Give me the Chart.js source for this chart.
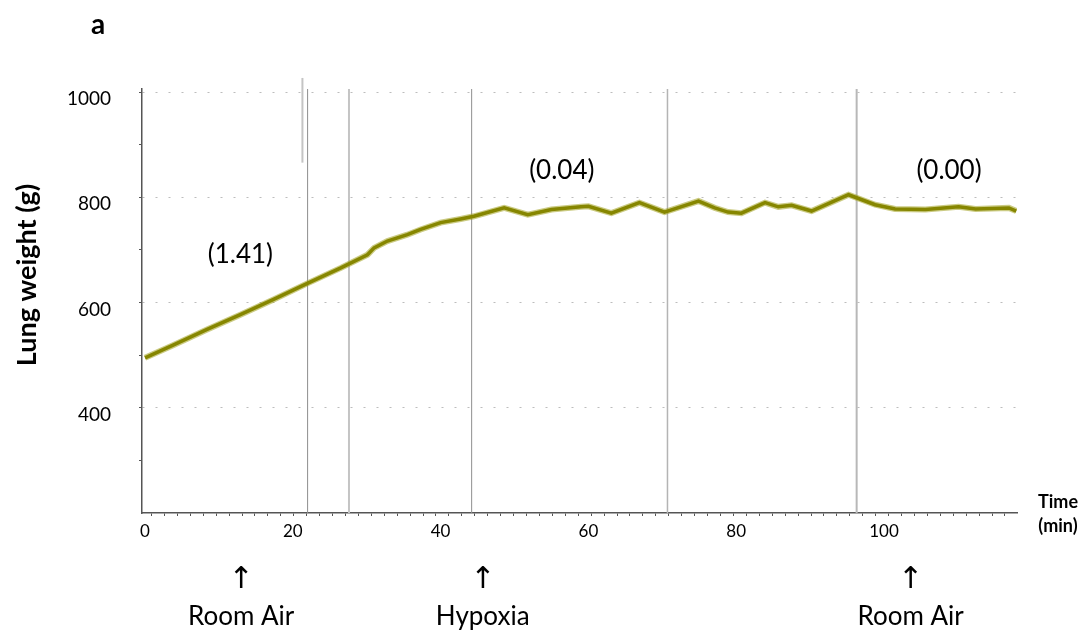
<!DOCTYPE html>
<html>
<head>
<meta charset="utf-8">
<script src="https://cdn.jsdelivr.net/npm/chart.js@4.4.1/dist/chart.umd.min.js"></script>
<style>
  html, body { margin: 0; padding: 0; background: #fff; }
  #wrap { position: relative; width: 1091px; height: 635px; }
</style>
</head>
<body>
<div id="wrap"><canvas id="c" width="1091" height="635"></canvas></div>
<script>
// Recorded lung weight trace (time in minutes, weight in grams)
const timeMin = [0, 3.8, 8.4, 12.9, 17.4, 21.9, 26.5, 30.1, 31.0, 32.8,
  35.5, 37.3, 40.0, 42.7, 44.5, 48.6, 51.8, 55.0, 59.0, 60.0,
  63.1, 66.9, 70.3, 74.9, 77.1, 78.9, 80.7, 83.9, 85.7, 87.5, 90.2,
  95.2, 98.8, 101.5, 105.6, 110.1, 112.4, 116.9, 117.9];
const lungWeight = [495, 519, 549, 577, 606, 636, 666, 691, 704, 717,
  729, 739, 752, 759, 764, 780, 767, 777, 782, 783,
  770, 790, 772, 793, 780, 772, 770, 790, 782, 785, 774,
  805, 786, 778, 777, 782, 778, 780, 774];

// Event markers (minutes)
const markerTimes = [22.0, 27.6, 44.2, 70.7, 96.3];
const flushTime = 21.3;
const flushRange = [866, 1027];

// Slopes of the weight change for each phase
const slopeLabels = ['(1.41)', '(0.04)', '(0.00)'];

// Gas switches
const stimulusLabels = ['Room Air', 'Hypoxia', 'Room Air'];
const stimulusTimes = [13.0, 45.7, 103.6];

// Axis ticks
const xLabelTicks = [0, 20, 40, 60, 80, 100];
const xMinorStep = 1.75;
const yTicks = [200, 300, 400, 500, 600, 700, 800, 900, 1000];
const yLabelTicks = [400, 600, 800, 1000];

const markerStyles = [
  { color: '#8e8e8e', width: 1 },
  { color: '#c4c4c4', width: 2 },
  { color: '#8e8e8e', width: 1 },
  { color: '#b4b4b4', width: 1.5 },
  { color: '#b8b8b8', width: 2 }
];

const traceData = timeMin.map((t, i) => ({ x: t, y: lungWeight[i] }));

const datasets = [{
  // core of the trace
  data: traceData,
  borderColor: '#868600',
  borderWidth: 3.5,
  pointRadius: 0,
  tension: 0
}, {
  // softer halo from the signal jitter
  data: traceData,
  borderColor: 'rgba(160,160,30,0.55)',
  borderWidth: 6,
  pointRadius: 0,
  tension: 0
}];
markerTimes.forEach((t, i) => {
  datasets.push({
    data: [{ x: t, y: 200 }, { x: t, y: 1006 }],
    borderColor: markerStyles[i].color,
    borderWidth: markerStyles[i].width,
    pointRadius: 0
  });
});
datasets.push({
  data: [{ x: flushTime, y: flushRange[0] }, { x: flushTime, y: flushRange[1] }],
  borderColor: '#c4c4c4',
  borderWidth: 2,
  pointRadius: 0,
  clip: false
});

const annotate = {
  id: 'annotate',
  afterDraw(chart) {
    const { ctx, scales: { x, y } } = chart;
    ctx.save();
    ctx.fillStyle = '#000';
    ctx.textAlign = 'center';

    ctx.textBaseline = 'middle';
    ctx.font = 'bold 28px Lato';
    ctx.fillText('a', 98, 25);

    ctx.save();
    ctx.translate(27, 275);
    ctx.rotate(-Math.PI / 2);
    ctx.font = 'bold 27px Lato';
    ctx.fillText('Lung weight (g)', 0, 0);
    ctx.restore();

    ctx.textBaseline = 'alphabetic';
    ctx.font = 'bold 18px Lato';
    ctx.fillText('Time', 1058, 508);
    ctx.fillText('(min)', 1058, 532);

    ctx.textBaseline = 'middle';
    ctx.font = '26px Lato';
    const slopePos = [[12.9, 691], [56.4, 851], [108.8, 851]];
    slopeLabels.forEach((s, i) => {
      ctx.fillText(s, x.getPixelForValue(slopePos[i][0]), y.getPixelForValue(slopePos[i][1]));
    });

    stimulusLabels.forEach((s, i) => {
      const px = x.getPixelForValue(stimulusTimes[i]);
      ctx.textBaseline = 'middle';
      ctx.font = '30px "DejaVu Sans"';
      ctx.fillText('\u2191', px, 580);
      ctx.textBaseline = 'alphabetic';
      ctx.font = '26px Lato';
      ctx.fillText(s, px, 625);
    });
    ctx.restore();
  }
};

new Chart(document.getElementById('c'), {
  type: 'line',
  data: { datasets },
  plugins: [annotate],
  options: {
    responsive: false,
    animation: false,
    layout: { padding: { left: 42, top: 89, right: 74, bottom: 82 } },
    plugins: { legend: { display: false }, tooltip: { enabled: false } },
    scales: {
      x: {
        type: 'linear',
        min: -0.41,
        max: 118,
        afterFit(s) { s.height = 40; },
        afterBuildTicks(s) {
          const t = xLabelTicks.map(v => ({ value: v }));
          for (let v = xMinorStep * 0.5; v < 118; v += xMinorStep) t.push({ value: v, minor: true });
          t.sort((a, b) => a.value - b.value);
          s.ticks = t;
        },
        ticks: {
          autoSkip: false,
          maxRotation: 0,
          minRotation: 0,
          padding: 5,
          color: '#000',
          font: { family: 'Lato', size: 17 },
          callback(v) { return xLabelTicks.includes(v) ? String(v) : ''; }
        },
        grid: {
          drawOnChartArea: false,
          tickLength: 3,
          tickColor(c) { return c.tick && xLabelTicks.includes(c.tick.value) ? 'rgba(0,0,0,0)' : '#555'; }
        },
        border: { color: '#555', width: 1.5 }
      },
      y: {
        min: 200,
        max: 1006,
        afterFit(s) { s.width = 100; },
        afterBuildTicks(s) { s.ticks = yTicks.map(v => ({ value: v })); },
        ticks: {
          autoSkip: false,
          padding: 28,
          labelOffset: 7,
          color: '#000',
          font: { family: 'Lato', size: 19 },
          callback(v) { return yLabelTicks.includes(v) ? String(v) : ''; }
        },
        grid: {
          color(c) { return c.tick && yLabelTicks.includes(c.tick.value) ? '#bdbdbd' : 'rgba(0,0,0,0)'; },
          lineWidth: 1,
          tickLength: 3,
          tickColor(c) { return c.tick && c.tick.value === 200 ? 'rgba(0,0,0,0)' : '#555'; }
        },
        border: { color: '#555', width: 1.5, dash: [2, 11] }
      }
    }
  }
});
</script>
</body>
</html>
